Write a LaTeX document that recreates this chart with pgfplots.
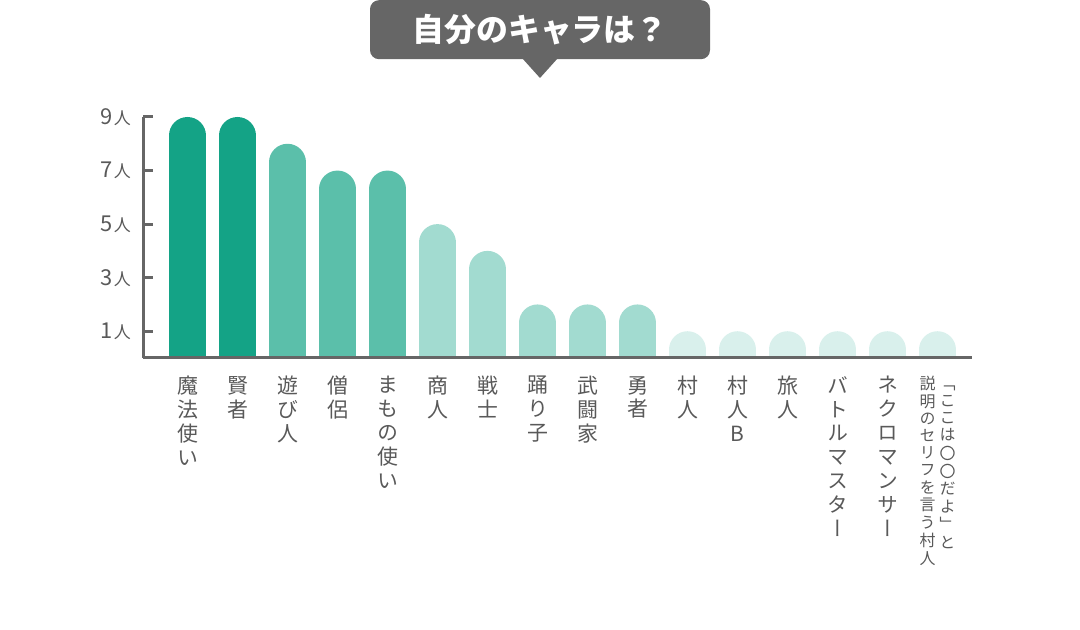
\documentclass[border=0pt]{standalone}
\usepackage{pgfplots}
\usepackage{pgfplotstable}
\pgfplotsset{compat=1.18}
\usepackage{fontspec}
\setmainfont{Noto Sans CJK JP}
\newfontfamily\vjp[RawFeature={+vert}]{Noto Sans CJK JP}
\definecolor{c1}{HTML}{14A386}
\definecolor{c2}{HTML}{5BBFAA}
\definecolor{c3}{HTML}{A2DBD0}
\definecolor{c4}{HTML}{D9F0EC}
\definecolor{ax}{HTML}{666666}
\definecolor{txt}{HTML}{595959}
\pgfplotstableread{
x v
0 9
1 9
}\tdark
\pgfplotstableread{
x v
2 8
3 7
4 7
}\tmed
\pgfplotstableread{
x v
5 5
6 4
7 2
8 2
9 2
}\tlight
\pgfplotstableread{
x v
10 1
11 1
12 1
13 1
14 1
15 1
}\tpale
\newcommand{\col}[1]{\begin{tabular}[t]{@{}c@{}}#1\end{tabular}}
\newcommand{\nin}[1]{#1\hspace{1.5bp}{\fontsize{17}{17}\selectfont 人}}
\begin{document}
\begin{tikzpicture}[x=1bp,y=1bp]
\useasboundingbox (0,0) rectangle (1080,630);
\begin{axis}[
  at={(143bp,272bp)}, anchor=south west, scale only axis,
  width=829bp, height=241bp,
  xmin=-0.89, xmax=15.69, ymin=0, ymax=9,
  axis x line*=bottom, axis y line*=left,
  axis line style={draw=ax, line width=3bp},
  axis on top=true,
  ytick={1,3,5,7,9},
  yticklabels={{\nin{1}},{\nin{3}},{\nin{5}},{\nin{7}},{\nin{9}}},
  ytick align=inside,
  ytick style={draw=ax, line width=3bp},
  major tick length=10bp,
  y tick label style={anchor=east, inner sep=0pt, xshift=-12bp, text=txt, font=\fontsize{22}{22}\selectfont},
  xtick={0,...,15},
  xtick style={draw=none},
  xticklabels={{魔\\法\\使\\い},{賢\\者},{遊\\び\\人},{僧\\侶},{ま\\も\\の\\使\\い},
    {商\\人},{戦\\士},{踊\\り\\子},{武\\闘\\家},{勇\\者},{村\\人},{村\\人\\B},{旅\\人},
    {バ\\ト\\ル\\マ\\ス\\タ\\ー},{ネ\\ク\\ロ\\マ\\ン\\サ\\ー},
    {\fontsize{16}{17}\selectfont\col{説\\明\\の\\セ\\リ\\フ\\を\\言\\う\\村\\人}\hspace{4bp}\col{「\\こ\\こ\\は\\〇\\〇\\だ\\よ\\」\\と}}},
  x tick label style={font=\vjp\fontsize{21}{24}\selectfont, align=center, anchor=north, inner sep=0pt, yshift=-18bp, text=txt},
  clip=true,
]
\addplot[ycomb, line width=37bp, line cap=round, color=c1, yshift=-18.5bp] table[x=x,y=v] {\tdark};
\addplot[ycomb, line width=37bp, line cap=round, color=c2, yshift=-18.5bp] table[x=x,y=v] {\tmed};
\addplot[ycomb, line width=37bp, line cap=round, color=c3, yshift=-18.5bp] table[x=x,y=v] {\tlight};
\addplot[ycomb, line width=37bp, line cap=round, color=c4, yshift=-18.5bp] table[x=x,y=v] {\tpale};
\end{axis}
\node[fill=ax, rounded corners=9bp, minimum width=340bp, minimum height=59bp, text=white,
  font=\bfseries\fontsize{32}{32}\selectfont, anchor=north, inner sep=0pt] (T) at (540,630) {自分のキャラは？};
\fill[ax] (522,572) -- (558,572) -- (540,552) -- cycle;
\end{tikzpicture}
\end{document}
